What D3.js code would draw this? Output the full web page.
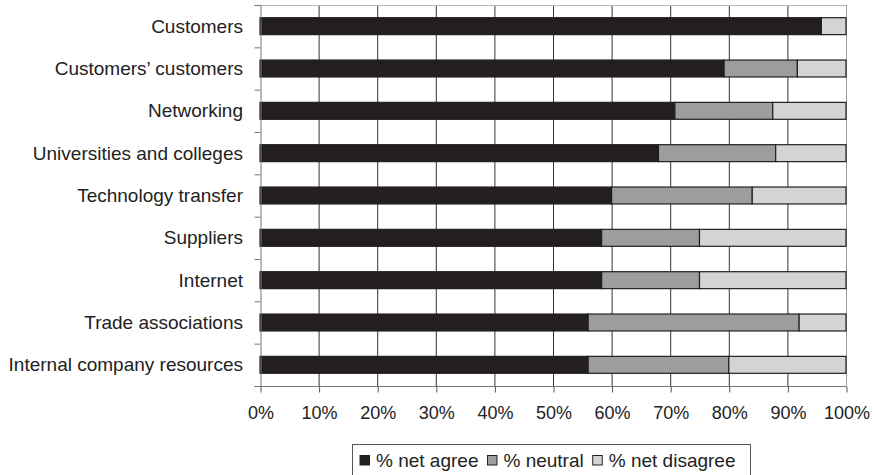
<!DOCTYPE html>
<html><head><meta charset="utf-8">
<script src="https://cdn.jsdelivr.net/npm/d3@7"></script>
<style>body{margin:0;background:#fff;}svg{display:block;font-family:"Liberation Sans",Arial,sans-serif;}</style>
</head><body>
<svg id="c" width="876" height="475"></svg>
<script>
const categories = ["Customers","Customers’ customers","Networking","Universities and colleges","Technology transfer","Suppliers","Internet","Trade associations","Internal company resources"];
const netAgree    = [95.8, 79.2, 70.8, 68, 60, 58.3, 58.3, 56, 56];
const neutral     = [0, 12.5, 16.7, 20, 24, 16.7, 16.7, 36, 24];
const netDisagree = [4.2, 8.3, 12.5, 12, 16, 25, 25, 8, 20];
const seriesNames = ["% net agree","% neutral","% net disagree"];
const xTicks = [0,10,20,30,40,50,60,70,80,90,100];
const colors = ["#231f20","#9c9d9f","#d3d4d5"];

const svg = d3.select("#c");
const m = {l:260, r:846, t:5, b:386};
const x = d3.scaleLinear().domain([0,100]).range([m.l, m.r]);
const y = d3.scaleBand().domain(categories).range([m.t, m.b]).paddingInner(0.6).paddingOuter(0.3);

// grid
svg.append("g").selectAll("line").data(xTicks.slice(1)).join("line")
  .attr("x1", d=>x(d)+0.5).attr("x2", d=>x(d)+0.5).attr("y1", m.t).attr("y2", m.b)
  .attr("stroke", d=> d===100 ? "#9a9a9a" : "#333").attr("stroke-width",1);
svg.append("line").attr("x1", m.l).attr("x2", m.r).attr("y1", m.t+0.5).attr("y2", m.t+0.5).attr("stroke","#b5b5b5");

// bars
const rows = categories.map((c,i)=>({c, v:[netAgree[i], neutral[i], netDisagree[i]]}));
const g = svg.append("g");
rows.forEach(r=>{
  let acc = 0;
  r.v.forEach((v,k)=>{
    if (v>0) {
      g.append("rect").attr("x", x(acc)).attr("width", x(acc+v)-x(acc))
        .attr("y", y(r.c)).attr("height", y.bandwidth())
        .attr("fill", colors[k]).attr("stroke","#231f20").attr("stroke-width",1.2);
    }
    acc += v;
  });
});

// axes
const yAxis = d3.axisLeft(d3.scaleLinear().domain([0,categories.length]).range([m.t,m.b]))
  .tickValues(d3.range(categories.length+1)).tickSize(6).tickFormat("");
const ya = svg.append("g").attr("transform",`translate(${m.l+0.5},0)`).call(yAxis);
ya.select(".domain").attr("stroke","#777");
ya.selectAll(".tick line").attr("stroke","#777");

const xAxis = d3.axisBottom(x).tickValues(xTicks).tickSize(6).tickSizeOuter(0).tickFormat(d=>d+"%").tickPadding(14);
const xa = svg.append("g").attr("transform",`translate(0.5,${m.b+0.5})`).call(xAxis);
xa.select(".domain").attr("stroke","#777").attr("d", `M${m.l-6},0H${m.r}`);
xa.selectAll(".tick line").attr("stroke","#555");
xa.selectAll("text").attr("font-size","18px").attr("fill","#222").attr("font-family","Liberation Sans, Arial, sans-serif");

// category labels
svg.append("g").selectAll("text").data(categories).join("text")
  .attr("x", m.l-17).attr("y", d=>y(d)+y.bandwidth()/2).attr("dy","0.35em")
  .attr("text-anchor","end").attr("font-size","19px").attr("fill","#222").text(d=>d);

// legend
const leg = svg.append("g");
leg.append("rect").attr("x",352.5).attr("y",444.5).attr("width",398).attr("height",36)
  .attr("fill","#fff").attr("stroke","#555");
let lx = 360;
seriesNames.forEach((s,k)=>{
  leg.append("rect").attr("x",lx).attr("y",455.5).attr("width",9.5).attr("height",9.5)
    .attr("fill",colors[k]).attr("stroke","#231f20").attr("stroke-width",1);
  const t = leg.append("text").attr("x",lx+16).attr("y",460).attr("dy","0.35em")
    .attr("font-size","19px").attr("fill","#222").text(s);
  lx += 16 + t.node().getComputedTextLength() + 9;
});
</script>
</body></html>
